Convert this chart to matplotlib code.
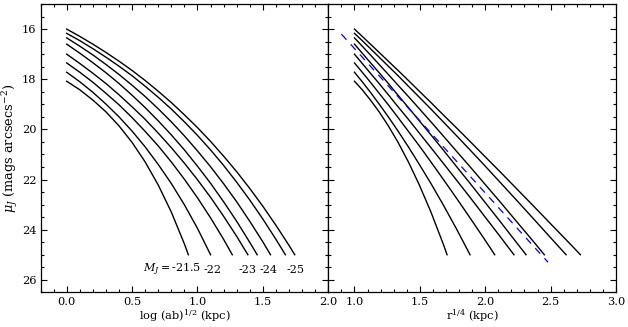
import numpy as np
import matplotlib.pyplot as plt
from matplotlib.ticker import MultipleLocator

plt.rcParams['font.family'] = 'DejaVu Serif'
plt.rcParams['mathtext.fontset'] = 'dejavuserif'
plt.rcParams['font.size'] = 8.2

# surface brightness profiles, one per absolute magnitude
# x = log (ab)^1/2 in kpc, y = mu_J
mags = [-21.5, -22, -22.5, -23, -23.5, -24, -24.5, -25]

logr = [
    [0.0, 0.1, 0.2, 0.3, 0.4, 0.5, 0.6, 0.7, 0.8, 0.9, 0.93],
    [0.0, 0.1, 0.2, 0.3, 0.4, 0.5, 0.6, 0.7, 0.8, 0.9, 1.0, 1.1],
    [0.0, 0.1, 0.2, 0.3, 0.4, 0.5, 0.6, 0.7, 0.8, 0.9, 1.0, 1.1, 1.2, 1.266],
    [0.0, 0.1, 0.2, 0.3, 0.4, 0.5, 0.6, 0.7, 0.8, 0.9, 1.0, 1.1, 1.2, 1.3, 1.385],
    [0.0, 0.1, 0.2, 0.3, 0.4, 0.5, 0.6, 0.7, 0.8, 0.9, 1.0, 1.1, 1.2, 1.3, 1.4, 1.456],
    [0.0, 0.1, 0.2, 0.3, 0.4, 0.5, 0.6, 0.7, 0.8, 0.9, 1.0, 1.1, 1.2, 1.3, 1.4, 1.5, 1.558],
    [0.0, 0.1, 0.2, 0.3, 0.4, 0.5, 0.6, 0.7, 0.8, 0.9, 1.0, 1.1, 1.2, 1.3, 1.4, 1.5, 1.6, 1.672],
    [0.0, 0.1, 0.2, 0.3, 0.4, 0.5, 0.6, 0.7, 0.8, 0.9, 1.0, 1.1, 1.2, 1.3, 1.4, 1.5, 1.6, 1.7, 1.743],
]

mu = [
    [18.08, 18.42, 18.83, 19.30, 19.86, 20.52, 21.30, 22.22, 23.30, 24.57, 25.0],
    [17.72, 18.10, 18.52, 18.99, 19.50, 20.07, 20.70, 21.40, 22.16, 23.01, 23.95, 25.0],
    [17.35, 17.72, 18.12, 18.56, 19.02, 19.53, 20.08, 20.66, 21.30, 21.99, 22.73, 23.53, 24.39, 25.0],
    [17.00, 17.37, 17.76, 18.17, 18.62, 19.10, 19.60, 20.15, 20.73, 21.35, 22.01, 22.71, 23.47, 24.27, 25.0],
    [16.60, 16.96, 17.34, 17.74, 18.17, 18.64, 19.13, 19.66, 20.22, 20.82, 21.47, 22.15, 22.89, 23.67, 24.51, 25.0],
    [16.35, 16.68, 17.03, 17.41, 17.81, 18.24, 18.69, 19.18, 19.70, 20.26, 20.86, 21.49, 22.17, 22.89, 23.67, 24.49, 25.0],
    [16.17, 16.46, 16.78, 17.12, 17.48, 17.86, 18.28, 18.72, 19.19, 19.70, 20.24, 20.82, 21.44, 22.11, 22.82, 23.58, 24.39, 25.0],
    [16.00, 16.29, 16.60, 16.93, 17.28, 17.65, 18.05, 18.48, 18.93, 19.42, 19.93, 20.48, 21.07, 21.69, 22.36, 23.07, 23.83, 24.63, 25.0],
]

# dashed r^1/4 reference line in the right panel
dev_x = [0.90, 2.48]
dev_mu = [16.2, 25.3]

# magnitude labels along the bottom of the left panel
label_text = ['$M_J=$-21.5', '-22', '-23', '-24', '-25']
label_x = [1.03, 1.115, 1.38, 1.545, 1.75]
label_ha = ['right', 'center', 'center', 'center', 'center']
label_mu = 25.6

fig = plt.figure(figsize=(6.28, 3.27), dpi=100)
ax1 = fig.add_axes([0.0645, 0.106, 0.4583, 0.8817])
ax2 = fig.add_axes([0.5228, 0.106, 0.4581, 0.8817])

for x, y in zip(logr, mu):
    ax1.plot(x, y, color='black', lw=1.0)
    # same profiles against r^1/4
    ax2.plot(10 ** (np.array(x) / 4), y, color='black', lw=1.0)

ax2.plot(dev_x, dev_mu, color='blue', lw=0.9, dashes=(6, 5))

for t, x, ha in zip(label_text, label_x, label_ha):
    ax1.text(x, label_mu, t, ha=ha, va='center', fontsize=8)

ax1.set_xlim(-0.2, 2.0)
ax2.set_xlim(0.8, 3.0)
for ax in (ax1, ax2):
    ax.set_ylim(26.5, 15.0)
    ax.xaxis.set_major_locator(MultipleLocator(0.5))
    ax.xaxis.set_minor_locator(MultipleLocator(0.1))
    ax.yaxis.set_major_locator(MultipleLocator(2))
    ax.yaxis.set_minor_locator(MultipleLocator(0.5))
    ax.tick_params(which='both', direction='in', top=True, right=True, width=0.8)
    ax.tick_params(which='major', length=4.5, pad=3)
    ax.tick_params(which='minor', length=2.2)
    for s in ax.spines.values():
        s.set_linewidth(0.9)

ax2.set_xticks([1.0, 1.5, 2.0, 2.5, 3.0])
ax2.tick_params(labelleft=False)

ax1.set_xlabel('log (ab)$^{1/2}$ (kpc)', labelpad=1)
ax2.set_xlabel('r$^{1/4}$ (kpc)', labelpad=1)
ax1.set_ylabel('$\\mu_J$ (mags arcsecs$^{-2}$)', fontsize=9.3, labelpad=1)

fig.savefig('out.png', dpi=100)
